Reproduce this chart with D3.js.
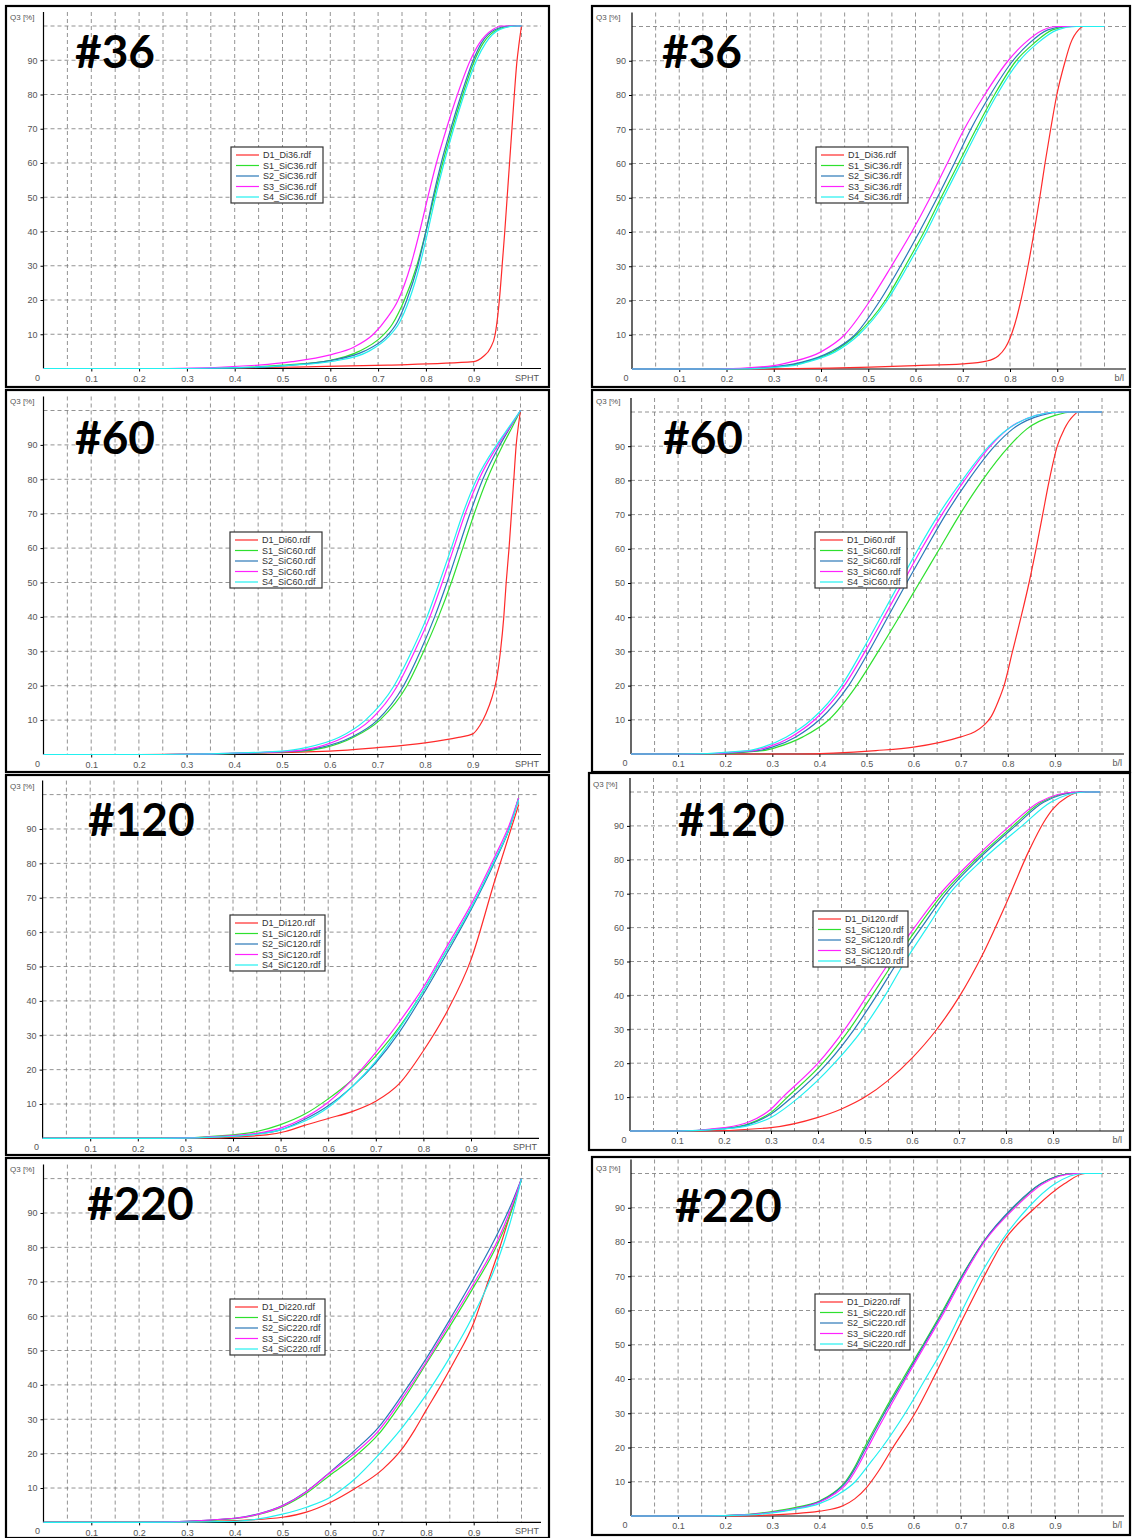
<!DOCTYPE html>
<meta charset="utf-8">
<head>
<meta charset="utf-8">
<title>Q3 shape curves</title>
<style>
body { margin: 0; background: #fff; }
svg { display: block; }
.tick text { font: 9px "Liberation Sans", Arial, sans-serif; fill: #555; }
.grid line { stroke: #777; stroke-width: 0.8; stroke-dasharray: 4,3; }
.legend text { font: 9px "Liberation Sans", Arial, sans-serif; fill: #333; }
.title { font: bold 46px Lato, "Open Sans", sans-serif; fill: #000; }
</style>
</head>
<body>
<svg width="1132" height="1538"></svg>
<script src="https://d3js.org/d3.v7.min.js"></script>
<script>

// series names and colours
var seriesKeys = ["D1", "S1", "S2", "S3", "S4"];
var seriesColors = ["#ff2a2a", "#2ee02e", "#2a78b8", "#ff22ff", "#22f0f0"];
var xTicks = [0.1, 0.2, 0.3, 0.4, 0.5, 0.6, 0.7, 0.8, 0.9];
var yTicks = [10, 20, 30, 40, 50, 60, 70, 80, 90];

// ---- #36, sphericity   [x, Q3 %]
var sph36_D1 = [[0.3,0],[0.55,0.5],[0.72,1],[0.9,2],[0.92,3.5],[0.935,6],[0.945,10],[0.95,15],[0.955,22],[0.96,31],[0.965,40],[0.97,50],[0.975,60],[0.98,70],[0.985,80],[0.99,89],[0.995,95],[1.0,100]];
var sph36_S1 = [[0.35,0],[0.5,1],[0.6,2.4],[0.66,5],[0.705,9],[0.73,13],[0.755,20],[0.781,30],[0.80,40],[0.817,50],[0.835,60],[0.855,70],[0.877,80],[0.902,90],[0.92,95],[0.95,99],[0.98,100],[1.0,100]];
var sph36_S2 = [[0.35,0],[0.52,1],[0.6,2.3],[0.67,5],[0.715,9],[0.74,13.5],[0.76,20],[0.783,30],[0.8,40],[0.815,50],[0.832,60],[0.852,70],[0.874,80],[0.899,90],[0.916,95],[0.945,99],[0.975,100],[1.0,100]];
var sph36_S3 = [[0.26,0],[0.45,1],[0.52,2],[0.6,4],[0.65,6.3],[0.69,10],[0.72,15],[0.742,20],[0.768,30],[0.787,40],[0.804,50],[0.822,60],[0.843,70],[0.866,80],[0.893,90],[0.912,95],[0.94,99],[0.96,100],[1.0,100]];
var sph36_S4 = [[0.3,0],[0.52,1],[0.61,2.2],[0.68,5],[0.72,9],[0.745,13.5],[0.765,20],[0.787,30],[0.804,40],[0.82,50],[0.838,60],[0.858,70],[0.88,80],[0.906,90],[0.925,95],[0.955,99],[0.99,100],[1.0,100]];

// ---- #36, b/l
var bl36_D1 = [[0.25,0],[0.6,1],[0.7,1.5],[0.75,2.3],[0.775,3.8],[0.79,6.2],[0.80,9],[0.81,13],[0.823,20],[0.838,30],[0.851,40],[0.863,50],[0.874,60],[0.886,70],[0.899,80],[0.917,90],[0.928,95],[0.945,99],[0.955,100],[1.0,100]];
var bl36_S1 = [[0.2,0],[0.33,1],[0.365,2],[0.425,5],[0.475,10],[0.536,20],[0.578,30],[0.618,40],[0.654,50],[0.691,60],[0.728,70],[0.767,80],[0.813,90],[0.85,95],[0.89,99],[0.93,100],[1.0,100]];
var bl36_S2 = [[0.2,0],[0.32,1],[0.36,2],[0.42,5],[0.472,10],[0.525,20],[0.568,30],[0.608,40],[0.646,50],[0.682,60],[0.717,70],[0.758,80],[0.806,90],[0.84,95],[0.88,99],[0.92,100],[1.0,100]];
var bl36_S3 = [[0.18,0],[0.30,1],[0.335,2],[0.40,5],[0.45,10],[0.504,20],[0.549,30],[0.592,40],[0.631,50],[0.667,60],[0.703,70],[0.746,80],[0.796,90],[0.83,95],[0.87,99],[0.9,100],[1.0,100]];
var bl36_S4 = [[0.22,0],[0.34,1],[0.37,2],[0.43,5],[0.48,10],[0.54,20],[0.583,30],[0.623,40],[0.659,50],[0.696,60],[0.733,70],[0.772,80],[0.82,90],[0.857,95],[0.9,99],[0.94,100],[1.0,100]];

// ---- #60, sphericity
var sph60_D1 = [[0.2,0],[0.6,1],[0.7,2],[0.8,3.4],[0.87,5],[0.9,6],[0.915,8.5],[0.928,12],[0.94,16.5],[0.95,22],[0.958,30],[0.965,40],[0.97,50],[0.976,60],[0.981,70],[0.986,80],[0.991,90],[0.996,96],[1.0,100]];
var sph60_S1 = [[0.25,0],[0.54,1],[0.59,2],[0.65,5],[0.705,10],[0.762,20],[0.797,30],[0.828,40],[0.855,50],[0.879,60],[0.903,70],[0.93,80],[0.963,90],[0.982,95],[1.0,100]];
var sph60_S2 = [[0.25,0],[0.53,1],[0.58,2],[0.645,5],[0.70,10],[0.755,20],[0.79,30],[0.82,40],[0.846,50],[0.87,60],[0.894,70],[0.921,80],[0.957,90],[0.978,95],[1.0,100]];
var sph60_S3 = [[0.25,0],[0.52,1],[0.57,2],[0.63,5],[0.685,10],[0.742,20],[0.778,30],[0.81,40],[0.836,50],[0.86,60],[0.884,70],[0.913,80],[0.953,90],[0.977,95],[1.0,100]];
var sph60_S4 = [[0.25,0],[0.5,1],[0.55,2],[0.62,5],[0.675,10],[0.735,20],[0.772,30],[0.804,40],[0.83,50],[0.855,60],[0.879,70],[0.908,80],[0.95,90],[0.975,95],[1.0,100]];

// ---- #60, b/l
var bl60_D1 = [[0.35,0],[0.52,1],[0.6,2],[0.7,5],[0.73,6.5],[0.75,8.5],[0.765,11],[0.78,15.5],[0.792,20],[0.81,30],[0.828,40],[0.845,50],[0.86,60],[0.874,70],[0.888,80],[0.905,90],[0.92,95],[0.94,99],[0.95,100],[1.0,100]];
var bl60_S1 = [[0.15,0],[0.28,1],[0.31,2],[0.365,5],[0.42,10],[0.479,20],[0.525,30],[0.569,40],[0.612,50],[0.655,60],[0.698,70],[0.746,80],[0.803,90],[0.84,95],[0.9,99],[0.94,100],[1.0,100]];
var bl60_S2 = [[0.14,0],[0.27,1],[0.3,2],[0.35,5],[0.40,10],[0.462,20],[0.505,30],[0.545,40],[0.585,50],[0.626,60],[0.668,70],[0.716,80],[0.772,90],[0.81,95],[0.87,99],[0.92,100],[1.0,100]];
var bl60_S3 = [[0.12,0],[0.26,1],[0.29,2],[0.34,5],[0.39,10],[0.453,20],[0.497,30],[0.537,40],[0.577,50],[0.617,60],[0.66,70],[0.708,80],[0.763,90],[0.8,95],[0.86,99],[0.91,100],[1.0,100]];
var bl60_S4 = [[0.1,0],[0.25,1],[0.28,2],[0.33,5],[0.383,10],[0.447,20],[0.49,30],[0.53,40],[0.57,50],[0.61,60],[0.653,70],[0.703,80],[0.76,90],[0.8,95],[0.86,99],[0.91,100],[1.0,100]];

// ---- #120, sphericity
var sph120_D1 = [[0.3,0],[0.47,1],[0.51,2],[0.55,3.8],[0.6,5.8],[0.65,7.8],[0.7,10.8],[0.75,16],[0.8,25.5],[0.85,37],[0.9,52],[0.95,75],[1.0,97]];
var sph120_S1 = [[0.25,0],[0.4,1],[0.45,2],[0.5,4],[0.55,7],[0.6,11.5],[0.65,17],[0.7,24],[0.75,32.5],[0.8,43],[0.85,55],[0.9,67],[0.95,81],[0.98,90],[1.0,99]];
var sph120_S2 = [[0.25,0],[0.4,0.7],[0.45,1.3],[0.5,2.5],[0.55,5.5],[0.6,9.5],[0.65,15],[0.7,22],[0.75,31],[0.8,42],[0.85,54],[0.9,66.5],[0.95,80.5],[0.98,90],[1.0,99]];
var sph120_S3 = [[0.25,0],[0.4,0.8],[0.45,1.5],[0.5,3],[0.55,6],[0.6,10.5],[0.65,17],[0.7,25],[0.75,34],[0.8,44],[0.85,56],[0.9,68],[0.95,82],[0.98,91],[1.0,99]];
var sph120_S4 = [[0.25,0],[0.4,0.6],[0.45,1.2],[0.5,2.5],[0.55,5],[0.6,9],[0.65,15],[0.7,22.5],[0.75,32],[0.8,43],[0.85,55],[0.9,67],[0.95,81],[0.98,90],[1.0,98.5]];

// ---- #120, b/l
var bl120_D1 = [[0.15,0],[0.3,1],[0.4,4],[0.45,6.5],[0.5,10],[0.55,15],[0.6,21.5],[0.65,29.5],[0.7,39.5],[0.75,52],[0.8,67],[0.85,83],[0.88,91],[0.9,95],[0.93,98.5],[0.96,100],[1.0,100]];
var bl120_S1 = [[0.1,0],[0.2,0.8],[0.25,2],[0.3,5.5],[0.335,10],[0.41,20],[0.467,30],[0.515,40],[0.562,50],[0.612,60],[0.666,70],[0.735,80],[0.815,90],[0.875,97],[0.955,100],[1.0,100]];
var bl120_S2 = [[0.1,0],[0.2,0.7],[0.25,1.8],[0.3,5],[0.345,10],[0.42,20],[0.477,30],[0.525,40],[0.57,50],[0.62,60],[0.672,70],[0.74,80],[0.82,90],[0.88,97],[0.96,100],[1.0,100]];
var bl120_S3 = [[0.1,0],[0.2,1],[0.25,2.5],[0.3,6.5],[0.325,10],[0.4,20],[0.457,30],[0.505,40],[0.553,50],[0.605,60],[0.66,70],[0.73,80],[0.808,90],[0.87,97],[0.95,100],[1.0,100]];
var bl120_S4 = [[0.1,0],[0.2,0.6],[0.25,1.5],[0.3,4],[0.36,10],[0.435,20],[0.495,30],[0.543,40],[0.585,50],[0.632,60],[0.68,70],[0.75,80],[0.834,90],[0.895,97],[0.97,100],[1.0,100]];

// ---- #220, sphericity
var sph220_D1 = [[0.25,0],[0.4,0.5],[0.5,1.5],[0.55,3],[0.6,5.8],[0.65,9.7],[0.71,15.5],[0.748,21],[0.777,27],[0.8,32.5],[0.832,40],[0.86,47],[0.9,58],[0.925,68],[0.95,78],[0.975,89],[1.0,100]];
var sph220_S1 = [[0.2,0],[0.4,1.1],[0.45,2.3],[0.5,4.6],[0.55,8.5],[0.6,13.8],[0.65,19],[0.7,25.5],[0.75,35],[0.8,46],[0.85,57],[0.9,68.5],[0.95,81],[0.98,91],[1.0,100]];
var sph220_S2 = [[0.2,0],[0.4,1.2],[0.45,2.5],[0.5,4.9],[0.55,9],[0.6,14.7],[0.65,20.8],[0.7,27.5],[0.75,37],[0.8,47.5],[0.85,59],[0.9,71],[0.95,84],[0.98,93],[1.0,100]];
var sph220_S3 = [[0.2,0],[0.4,1.2],[0.45,2.4],[0.5,4.8],[0.55,8.9],[0.6,14.5],[0.65,20],[0.7,26.5],[0.75,36],[0.8,46.5],[0.85,58],[0.9,69.5],[0.95,82],[0.98,92],[1.0,100]];
var sph220_S4 = [[0.2,0],[0.4,0.3],[0.5,2.4],[0.55,4.4],[0.6,7.3],[0.63,10.2],[0.65,12.5],[0.7,19.5],[0.75,27.5],[0.8,37],[0.85,48],[0.887,57],[0.923,67],[0.95,76],[0.98,89],[1.0,100]];

// ---- #220, b/l
var bl220_D1 = [[0.2,0],[0.35,0.7],[0.4,1.4],[0.45,3],[0.475,5],[0.5,8.3],[0.525,13],[0.556,20],[0.603,30],[0.641,40],[0.677,50],[0.713,60],[0.75,70],[0.79,80],[0.858,90],[0.92,97],[0.964,100],[1.0,100]];
var bl220_S1 = [[0.15,0],[0.25,0.5],[0.3,1.3],[0.35,2.5],[0.4,4.4],[0.43,6.8],[0.455,10],[0.477,14.8],[0.495,19.8],[0.517,25.5],[0.537,30.5],[0.577,40],[0.62,50],[0.662,60],[0.702,70],[0.748,80],[0.812,90],[0.87,97],[0.94,100],[1.0,100]];
var bl220_S2 = [[0.15,0],[0.25,0.4],[0.3,1.1],[0.35,2.2],[0.4,4.2],[0.43,6.6],[0.456,9.8],[0.478,14.5],[0.497,19.5],[0.52,25.5],[0.54,30.5],[0.58,40],[0.622,50],[0.664,60],[0.703,70],[0.748,80],[0.81,90],[0.87,97],[0.94,100],[1.0,100]];
var bl220_S3 = [[0.15,0],[0.25,0.4],[0.3,1.1],[0.35,2.2],[0.4,4.0],[0.432,6.4],[0.459,9.6],[0.481,14.3],[0.5,19.2],[0.523,25.2],[0.543,30.2],[0.583,40],[0.625,50],[0.667,60],[0.706,70],[0.75,80],[0.815,90],[0.875,97],[0.945,100],[1.0,100]];
var bl220_S4 = [[0.15,0],[0.25,0.3],[0.3,0.9],[0.35,2],[0.4,3.6],[0.44,6.3],[0.476,10],[0.505,15],[0.533,20],[0.582,30],[0.625,40],[0.667,50],[0.703,60],[0.74,70],[0.785,80],[0.843,90],[0.9,97],[0.96,100],[1.0,100]];

// panel layout: box = frame, x0/x1 = pixel of 0 and 1.0, y0/y100 = pixel of 0% and 100%
var panels = [
  {box:[6,6,543,381], x0:43.5, x1:521.5, xr:541, y0:368.5, y100:26, title:"#36", tx:75, ty:68, xname:"SPHT", lg:[231,147], sample:"36",
   data:[sph36_D1, sph36_S1, sph36_S2, sph36_S3, sph36_S4]},
  {box:[592,6,538,381], x0:632, x1:1104.5, xr:1126, y0:369, y100:26.5, title:"#36", tx:662, ty:68, xname:"b/l", lg:[816,147], sample:"36",
   data:[bl36_D1, bl36_S1, bl36_S2, bl36_S3, bl36_S4]},
  {box:[6,390,543,382], x0:43.5, x1:520.5, xr:541, y0:754.5, y100:410.5, title:"#60", tx:75, ty:454, xname:"SPHT", lg:[230,532], sample:"60",
   data:[sph60_D1, sph60_S1, sph60_S2, sph60_S3, sph60_S4]},
  {box:[592,390,538,382], x0:631, x1:1102, xr:1124, y0:754, y100:412, title:"#60", tx:663, ty:454, xname:"b/l", lg:[815,532], sample:"60",
   data:[bl60_D1, bl60_S1, bl60_S2, bl60_S3, bl60_S4]},
  {box:[6,775,543,380], x0:42.6, x1:518.6, xr:539, y0:1138.4, y100:794.6, title:"#120", tx:88, ty:836, xname:"SPHT", lg:[230,915], sample:"120",
   data:[sph120_D1, sph120_S1, sph120_S2, sph120_S3, sph120_S4]},
  {box:[589,773,541,377], x0:630, x1:1100, xr:1124, y0:1131, y100:792, title:"#120", tx:678, ty:836, xname:"b/l", lg:[813,911], sample:"120",
   data:[bl120_D1, bl120_S1, bl120_S2, bl120_S3, bl120_S4]},
  {box:[6,1158,543,380], x0:43.5, x1:521.5, xr:541, y0:1522.4, y100:1178.6, title:"#220", tx:87, ty:1220, xname:"SPHT", lg:[230,1299], sample:"220",
   data:[sph220_D1, sph220_S1, sph220_S2, sph220_S3, sph220_S4]},
  {box:[592,1157,538,378], x0:631, x1:1102, xr:1124, y0:1516, y100:1173.5, title:"#220", tx:675, ty:1222, xname:"b/l", lg:[815,1294], sample:"220",
   data:[bl220_D1, bl220_S1, bl220_S2, bl220_S3, bl220_S4]}
];

var svg = d3.select("svg");

panels.forEach(function(p) {
  var x = d3.scaleLinear().domain([0, 1]).range([p.x0, p.x1]);
  var y = d3.scaleLinear().domain([0, 100]).range([p.y0, p.y100]);
  var xMax = x.invert(p.xr);
  var top = p.y100 - 14;
  var g = svg.append("g");

  // frame
  g.append("rect")
      .attr("x", p.box[0]).attr("y", p.box[1])
      .attr("width", p.box[2]).attr("height", p.box[3])
      .attr("fill", "#fff").attr("stroke", "#000").attr("stroke-width", 2.2);

  // grid
  var grid = g.append("g").attr("class", "grid");
  grid.selectAll(".v").data(d3.range(1, Math.floor(xMax / 0.05) + 1).map(function(i) { return i * 0.05; }))
    .enter().append("line")
      .attr("x1", function(d) { return x(d); }).attr("x2", function(d) { return x(d); })
      .attr("y1", top).attr("y2", p.y0);
  grid.selectAll(".h").data(yTicks.concat([100]))
    .enter().append("line")
      .attr("x1", p.x0).attr("x2", p.xr)
      .attr("y1", function(d) { return y(d); }).attr("y2", function(d) { return y(d); });

  // axes
  var ax = g.append("g").attr("transform", "translate(0," + p.y0 + ")")
      .call(d3.axisBottom(x).tickValues(xTicks).tickSize(3).tickPadding(4).tickFormat(d3.format(".1f")));
  ax.select(".domain").remove();
  var ay = g.append("g").attr("transform", "translate(" + p.x0 + ",0)")
      .call(d3.axisLeft(y).tickValues(yTicks).tickSize(3).tickPadding(3));
  ay.select(".domain").remove();

  g.append("line").attr("x1", p.x0).attr("x2", p.xr).attr("y1", p.y0).attr("y2", p.y0)
      .attr("stroke", "#000").attr("stroke-width", 1.2);
  g.append("line").attr("x1", p.x0).attr("x2", p.x0).attr("y1", top).attr("y2", p.y0)
      .attr("stroke", "#000").attr("stroke-width", 1.2);

  g.append("text")
      .attr("x", p.x0 - 6).attr("y", p.y0 + 12).attr("text-anchor", "middle")
      .style("font", "9px 'Liberation Sans', Arial, sans-serif").style("fill", "#555").text("0");
  g.append("text")
      .attr("x", p.xr - 2).attr("y", p.y0 + 12).attr("text-anchor", "end")
      .style("font", "9px 'Liberation Sans', Arial, sans-serif").style("fill", "#555").text(p.xname);
  g.append("text")
      .attr("x", p.box[0] + 4).attr("y", p.box[1] + 14)
      .style("font", "8px 'Liberation Sans', Arial, sans-serif").style("fill", "#555").text("Q3 [%]");

  // curves
  var line = d3.line()
      .x(function(d) { return x(d[0]); })
      .y(function(d) { return y(d[1]); })
      .curve(d3.curveMonotoneX);
  p.data.forEach(function(s, i) {
    g.append("path")
        .datum([[0, 0]].concat(s))
        .attr("fill", "none")
        .attr("stroke", seriesColors[i])
        .attr("stroke-width", 1.2)
        .attr("d", line);
  });

  // title
  g.append("text").attr("class", "title").attr("x", p.tx).attr("y", p.ty).text(p.title);

  // legend
  var names = ["D1_Di" + p.sample + ".rdf"].concat(seriesKeys.slice(1).map(function(k) { return k + "_SiC" + p.sample + ".rdf"; }));
  var lw = p.sample.length > 2 ? 95 : 92;
  var lg = g.append("g").attr("class", "legend").attr("transform", "translate(" + p.lg[0] + "," + p.lg[1] + ")");
  lg.append("rect").attr("width", lw).attr("height", 56)
      .attr("fill", "#fff").attr("stroke", "#333").attr("stroke-width", 1.2);
  var row = lg.selectAll(".row").data(names).enter().append("g")
      .attr("transform", function(d, i) { return "translate(0," + (8 + i * 10.5) + ")"; });
  row.append("line").attr("x1", 5).attr("x2", 28)
      .attr("stroke", function(d, i) { return seriesColors[i]; }).attr("stroke-width", 1.2);
  row.append("text").attr("x", 32).attr("dy", "0.35em").text(function(d) { return d; });
});

</script>
</body>
</html>
